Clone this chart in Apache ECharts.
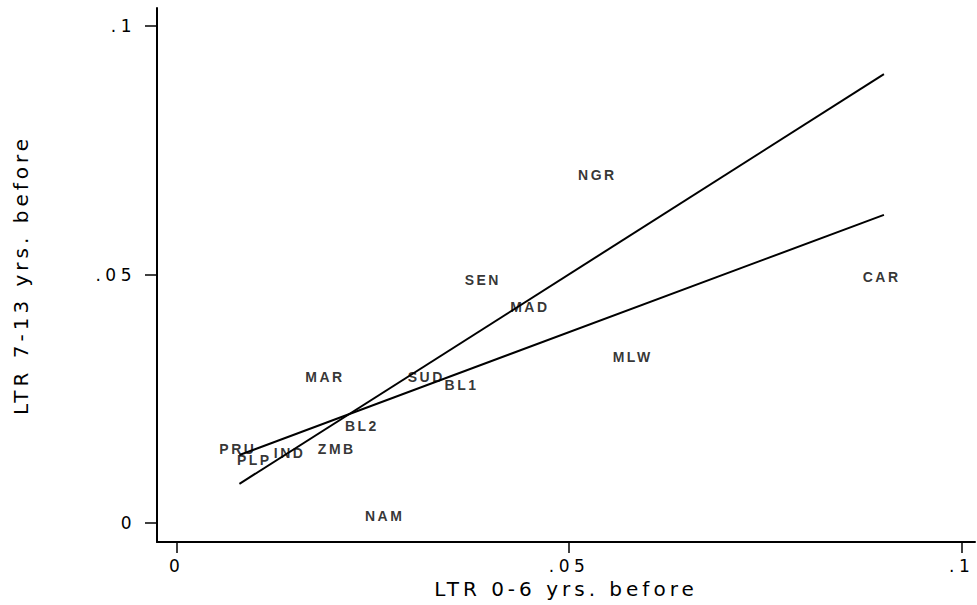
<!DOCTYPE html>
<html>
<head>
<meta charset="utf-8">
<script src="https://cdn.jsdelivr.net/npm/echarts@6/dist/echarts.min.js"></script>
<style>
html, body { margin: 0; padding: 0; background: #fff; }
#chart { width: 977px; height: 605px; }
#chart text[style*="14px"] { letter-spacing: 2.5px; }
#chart text[style*="17px"] { letter-spacing: 4.5px; }
#chart text[style*="20px"] { letter-spacing: 4px; }
</style>
</head>
<body>
<div id="chart"></div>
<script>
// Country labels and their positions (LTR 0-6 yrs before, LTR 7-13 yrs before)
const countries = ['NGR', 'CAR', 'SEN', 'MAD', 'MLW', 'MAR', 'SUD', 'BL1', 'BL2', 'PRU', 'PLP', 'IND', 'ZMB', 'NAM'];
const ltrEarly  = [0.0536, 0.0898, 0.0390, 0.0450, 0.0581, 0.0189, 0.0318, 0.0363, 0.0236, 0.0078, 0.0099, 0.0144, 0.0204, 0.0265];
const ltrLate   = [0.0700, 0.0495, 0.0489, 0.0435, 0.0334, 0.0294, 0.0294, 0.0278, 0.0195, 0.0149, 0.0127, 0.0141, 0.0149, 0.0014];

// Fitted lines (endpoints)
const fitSteepX = [0.0080, 0.0901];
const fitSteepY = [0.0079, 0.0903];
const fitFlatX  = [0.0080, 0.0901];
const fitFlatY  = [0.0137, 0.0620];

// Tick values and labels
const xTicks = [0, 0.05, 0.1];
const xTickLabels = ['0', '.05', '.1'];
const yTicks = [0, 0.05, 0.1];
const yTickLabels = ['0', '.05', '.1'];

const chart = echarts.init(document.getElementById('chart'), null, { renderer: 'svg' });

const pointData = countries.map((c, i) => ({ name: c, value: [ltrEarly[i], ltrLate[i]] }));
const steepData = fitSteepX.map((x, i) => [x, fitSteepY[i]]);
const flatData = fitFlatX.map((x, i) => [x, fitFlatY[i]]);

function fmt(ticks, labels) {
  return function (v) {
    for (let i = 0; i < ticks.length; i++) {
      if (Math.abs(v - ticks[i]) < 1e-9) return labels[i];
    }
    return '';
  };
}

const option = {
  backgroundColor: '#fff',
  animation: false,
  grid: { left: 157, right: 2, top: 8, bottom: 63, containLabel: false },
  xAxis: {
    type: 'value',
    min: -0.0025,
    max: 0.1017,
    name: 'LTR 0-6 yrs. before',
    nameLocation: 'middle',
    nameGap: 34,
    nameTextStyle: { fontFamily: 'DejaVu Sans', fontSize: 20, color: '#000' },
    axisLine: { show: true, onZero: false, lineStyle: { color: '#000', width: 2 } },
    axisTick: { show: true, customValues: xTicks, length: 11, lineStyle: { color: '#000', width: 1.5 } },
    axisLabel: {
      customValues: xTicks,
      formatter: fmt(xTicks, xTickLabels),
      fontFamily: 'DejaVu Sans', fontSize: 17, color: '#000', margin: 15
    },
    splitLine: { show: false }
  },
  yAxis: {
    type: 'value',
    min: -0.0038,
    max: 0.1036,
    name: 'LTR 7-13 yrs. before',
    nameLocation: 'middle',
    nameGap: 126,
    nameRotate: 90,
    nameTextStyle: { fontFamily: 'DejaVu Sans', fontSize: 20, color: '#000' },
    axisLine: { show: true, onZero: false, lineStyle: { color: '#000', width: 2 } },
    axisTick: { show: true, customValues: yTicks, length: 12, lineStyle: { color: '#000', width: 1.5 } },
    axisLabel: {
      customValues: yTicks,
      formatter: fmt(yTicks, yTickLabels),
      fontFamily: 'DejaVu Sans', fontSize: 17, color: '#000', margin: 21
    },
    splitLine: { show: false }
  },
  series: [
    {
      type: 'line',
      data: steepData,
      symbol: 'none',
      lineStyle: { color: '#000', width: 2 },
      z: 2
    },
    {
      type: 'line',
      data: flatData,
      symbol: 'none',
      lineStyle: { color: '#000', width: 2 },
      z: 2
    },
    {
      type: 'scatter',
      data: pointData,
      symbolSize: 1,
      itemStyle: { color: 'rgba(0,0,0,0)' },
      label: {
        show: true,
        position: 'inside',
        formatter: '{b}',
        fontFamily: 'Liberation Sans',
        fontWeight: 'bold',
        fontSize: 14,
        color: '#000'
      },
      z: 3
    }
  ]
};

chart.setOption(option);
</script>
</body>
</html>
